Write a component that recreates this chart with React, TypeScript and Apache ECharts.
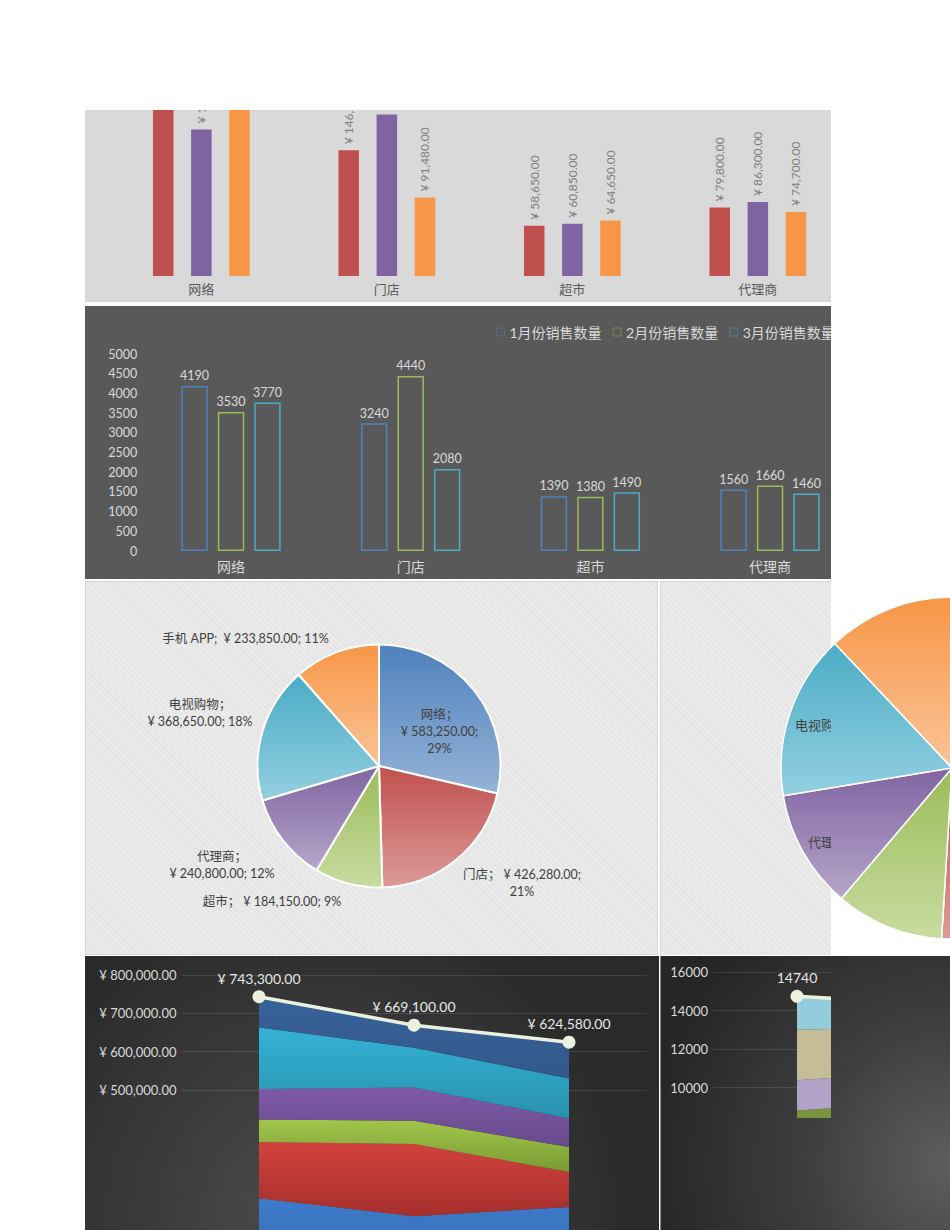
import React, { useEffect, useRef } from 'react';
import * as echarts from 'echarts';

// ---------- data ----------
const channels = ['网络', '门店', '超市', '代理商', '电视购物', '手机 APP'];
const barCategories = ['网络', '门店', '超市', '代理商'];
const months = ['1月', '2月', '3月'];
const amountSeriesNames = ['1月份销售额', '2月份销售额', '3月份销售额'];
const qtySeriesNames = ['1月份销售数量', '2月份销售数量', '3月份销售数量'];

const amountJan = [217650, 146500, 58650, 79800, 160500, 80200];
const amountFeb = [170800, 188300, 60850, 86300, 103800, 59050];
const amountMar = [194800, 91480, 64650, 74700, 104350, 94600];
const amountTotals = [743300, 669100, 624580];
const amountByChannel = [583250, 426280, 184150, 240800, 368650, 233850];

const qtyJan = [4190, 3240, 1390, 1560, 2630, 1730];
const qtyFeb = [3530, 4440, 1380, 1660, 2170, 1070];
const qtyMar = [3770, 2080, 1490, 1460, 1690, 2210];
const qtyTotals = [14740, 14250, 12700];
const qtyByChannel = [11490, 9760, 4260, 4680, 6490, 5010];

const amountLabelledFrom = 500000;

// ---------- styling / layout ----------
const FONT = "Lato, 'Noto Sans CJK SC', sans-serif";
const barColors = ['#c0504d', '#8064a2', '#f79646'];
const qtyBarColors = ['#4f81bd', '#9bbb59', '#4bacc6'];
const legendIconColors = ['rgba(79,129,189,0.45)', 'rgba(155,187,89,0.45)', 'rgba(75,172,198,0.45)'];
const pieGrad = [
  ['#4f81bd', '#95b3d7'],
  ['#c0504d', '#dc9a98'],
  ['#9bbb59', '#c8dca0'],
  ['#8064a2', '#b5a6c9'],
  ['#4bacc6', '#93cfe0'],
  ['#f79646', '#fbc498'],
];
const amountAreaGrad = [
  ['#3d7bcb', '#3569b0'],
  ['#d3423d', '#a52f2c'],
  ['#a1c64a', '#7a9a34'],
  ['#7e59a8', '#684a8c'],
  ['#34b2d6', '#2891ad'],
  ['#37619a', '#33598a'],
];
const qtyAreaColors = ['#95b3d7', '#d99694', '#77933c', '#b3a2c7', '#c4bd97', '#93cddd'];
const pieLabelAnchors = [
  [354.5, 150],
  [437, 302],
  [187, 320],
  [137, 284],
  [115, 132],
  [160.5, 57],
];
const pieLabelBreaks = [
  ['\n', '\n'],
  [' ', '\n'],
  [' ', ' '],
  ['\n', ' '],
  ['\n', ' '],
  [' ', ' '],
];
const rightPieLabelAnchors: Record<number, number[]> = { 3: [148, 261], 4: [135, 144] };

const grad = (a: string, b: string) =>
  new echarts.graphic.LinearGradient(0, 0, 0, 1, [
    { offset: 0, color: a },
    { offset: 1, color: b },
  ]);
const fmtMoney = (v: number) =>
  '¥ ' + v.toLocaleString('en-US', { minimumFractionDigits: 2, maximumFractionDigits: 2 });
const nameSep = (n: string) => (/[A-Za-z]$/.test(n) ? '; ' : '；');

function Chart({ option, style }: { option: any; style: React.CSSProperties }) {
  const ref = useRef<HTMLDivElement>(null);
  useEffect(() => {
    const chart = echarts.init(ref.current!, null, { renderer: 'svg' });
    chart.setOption(option);
    return () => chart.dispose();
  }, []);
  return <div ref={ref} style={style} />;
}

// ---------- options ----------
const amountBarOption = {
  animation: false,
  textStyle: { fontFamily: FONT },
  grid: { left: 23.6, width: 742, top: 61.6, bottom: 27 },
  xAxis: {
    type: 'category',
    data: barCategories,
    axisLine: { show: false },
    axisTick: { show: false },
    axisLabel: { color: '#595959', fontSize: 13, margin: 6 },
  },
  yAxis: { type: 'value', min: 0, max: 250000, show: false },
  series: [amountJan, amountFeb, amountMar].map((arr, i) => ({
    type: 'bar',
    name: amountSeriesNames[i],
    data: arr.slice(0, barCategories.length),
    barWidth: 20.5,
    barGap: '86%',
    itemStyle: { color: barColors[i] },
    label: {
      show: true,
      position: 'top',
      distance: 6,
      rotate: 90,
      align: 'left',
      verticalAlign: 'middle',
      color: '#808080',
      fontSize: 12,
      formatter: (p: any) => fmtMoney(p.value),
    },
  })),
};

const qtyBarOption = {
  animation: false,
  textStyle: { fontFamily: FONT },
  grid: { left: 56.2, width: 718.7, top: 48, bottom: 28 },
  legend: {
    left: 406,
    top: 14,
    itemWidth: 8,
    itemHeight: 8,
    itemGap: 11,
    icon: 'rect',
    textStyle: { color: '#d9d9d9', fontSize: 14 },
    data: qtySeriesNames.map((n, i) => ({
      name: n,
      itemStyle: { color: 'rgba(0,0,0,0)', borderColor: legendIconColors[i], borderWidth: 1 },
    })),
  },
  xAxis: {
    type: 'category',
    data: barCategories,
    axisLine: { show: false },
    axisTick: { show: false },
    axisLabel: { color: '#d9d9d9', fontSize: 14, margin: 8 },
  },
  yAxis: {
    type: 'value',
    min: 0,
    max: 5000,
    interval: 500,
    splitLine: { show: false },
    axisLabel: { color: '#d9d9d9', fontSize: 12.5, margin: 4, formatter: (v: number) => String(v) },
  },
  series: [qtyJan, qtyFeb, qtyMar].map((arr, i) => ({
    type: 'bar',
    name: qtySeriesNames[i],
    data: arr.slice(0, barCategories.length),
    barWidth: 26.4,
    barGap: '38%',
    itemStyle: { color: 'rgba(0,0,0,0)', borderColor: qtyBarColors[i], borderWidth: 1.5 },
    label: { show: true, position: 'top', distance: 4, color: '#d9d9d9', fontSize: 12.5 },
  })),
};

const amountPieOption = {
  animation: false,
  textStyle: { fontFamily: FONT },
  series: [
    {
      type: 'pie',
      center: [294, 185],
      radius: 121.5,
      startAngle: 90,
      clockwise: true,
      avoidLabelOverlap: false,
      itemStyle: { borderColor: '#ffffff', borderWidth: 2 },
      labelLine: { show: false },
      label: {
        show: true,
        position: 'outside',
        color: '#404040',
        fontSize: 12.5,
        lineHeight: 17,
        formatter: (p: any) =>
          p.name +
          nameSep(p.name) +
          pieLabelBreaks[p.dataIndex][0] +
          fmtMoney(p.value) +
          ';' +
          pieLabelBreaks[p.dataIndex][1] +
          Math.round(p.percent) +
          '%',
      },
      labelLayout: (p: any) => ({
        x: pieLabelAnchors[p.dataIndex][0],
        y: pieLabelAnchors[p.dataIndex][1],
        align: 'center',
        verticalAlign: 'middle',
      }),
      emphasis: { disabled: true },
      data: channels.map((n, i) => ({
        name: n,
        value: amountByChannel[i],
        itemStyle: { color: grad(pieGrad[i][0], pieGrad[i][1]) },
      })),
    },
  ],
};

const qtyPieBase = {
  type: 'pie',
  center: [292, 187],
  radius: 171,
  startAngle: 90,
  clockwise: true,
  avoidLabelOverlap: false,
  emphasis: { disabled: true },
  labelLine: { show: false },
};

const qtyPieOption = {
  animation: false,
  textStyle: { fontFamily: FONT },
  series: [
    {
      ...qtyPieBase,
      itemStyle: { borderColor: '#ffffff', borderWidth: 1.5 },
      label: { show: false },
      data: channels.map((n, i) => ({
        name: n,
        value: qtyByChannel[i],
        itemStyle: { color: grad(pieGrad[i][0], pieGrad[i][1]) },
      })),
    },
  ],
};

const qtyPieLabelOption = {
  animation: false,
  textStyle: { fontFamily: FONT },
  series: [
    {
      ...qtyPieBase,
      itemStyle: { color: 'rgba(0,0,0,0)', borderWidth: 0 },
      label: {
        show: true,
        position: 'inside',
        color: '#404040',
        fontSize: 13,
        formatter: (p: any) => p.name + nameSep(p.name) + p.value + '；' + Math.round(p.percent) + '%',
      },
      labelLayout: (p: any) => {
        const a = rightPieLabelAnchors[p.dataIndex];
        return a ? { x: a[0], y: a[1], align: 'left', verticalAlign: 'middle' } : {};
      },
      data: channels.map((n, i) => ({
        name: n,
        value: qtyByChannel[i],
        label: { show: !!rightPieLabelAnchors[i] },
      })),
    },
  ],
};

const amountTickCount = 9;
const amountAreaOption = {
  animation: false,
  textStyle: { fontFamily: FONT },
  grid: { left: 96.5, width: 465, top: 19, bottom: 14.4 },
  xAxis: { type: 'category', data: months, boundaryGap: true, show: false },
  yAxis: {
    type: 'value',
    min: 0,
    max: 800000,
    interval: 100000,
    axisLine: { show: false },
    axisTick: { show: false },
    axisLabel: {
      color: '#d9d9d9',
      fontSize: 13,
      margin: 5,
      formatter: (v: number) => (v >= amountLabelledFrom ? fmtMoney(v) : ''),
    },
    splitLine: {
      show: true,
      lineStyle: {
        width: 1,
        color: Array.from({ length: amountTickCount }, (_, i) =>
          i * 100000 >= amountLabelledFrom ? 'rgba(255,255,255,0.11)' : 'rgba(0,0,0,0)'
        ),
      },
    },
  },
  series: [
    ...channels.map((n, i) => ({
      type: 'line',
      name: n,
      stack: 'amount',
      data: [amountJan[i], amountFeb[i], amountMar[i]],
      symbol: 'none',
      lineStyle: { width: 0 },
      areaStyle: { color: grad(amountAreaGrad[i][0], amountAreaGrad[i][1]), opacity: 1 },
    })),
    {
      type: 'line',
      name: '合计',
      data: amountTotals,
      symbol: 'circle',
      symbolSize: 13,
      z: 5,
      itemStyle: { color: '#ebf1de' },
      lineStyle: { color: '#ebf1de', width: 3.5 },
      label: {
        show: true,
        position: 'top',
        distance: 5,
        color: '#e6e6e6',
        fontSize: 14,
        formatter: (p: any) => fmtMoney(p.value),
      },
    },
  ],
};

const qtyAreaOption = {
  animation: false,
  textStyle: { fontFamily: FONT },
  grid: { left: 53, width: 504, top: 16, bottom: 15.5 },
  xAxis: { type: 'category', data: months, boundaryGap: true, show: false },
  yAxis: {
    type: 'value',
    min: 0,
    max: 16000,
    interval: 2000,
    axisLine: { show: false },
    axisTick: { show: false },
    axisLabel: { color: '#d9d9d9', fontSize: 13, margin: 5, formatter: (v: number) => String(v) },
    splitLine: { show: true, lineStyle: { color: 'rgba(255,255,255,0.11)', width: 1 } },
  },
  series: [
    ...channels.map((n, i) => ({
      type: 'line',
      name: n,
      stack: 'qty',
      data: [qtyJan[i], qtyFeb[i], qtyMar[i]],
      symbol: 'none',
      lineStyle: { width: 0 },
      areaStyle: { color: qtyAreaColors[i], opacity: 1 },
    })),
    {
      type: 'line',
      name: '合计',
      data: qtyTotals,
      symbol: 'circle',
      symbolSize: 13,
      z: 5,
      itemStyle: { color: '#ebf1de' },
      lineStyle: { color: '#ebf1de', width: 3.5 },
      label: { show: true, position: 'top', distance: 5, color: '#e6e6e6', fontSize: 14 },
    },
  ],
};

const stripes =
  'repeating-linear-gradient(45deg, #e5e5e5 0px, #e5e5e5 2px, #ebebeb 2px, #ebebeb 4px)';

export default function App() {
  const abs = (l: number, t: number, w: number, h: number, extra: React.CSSProperties = {}): React.CSSProperties => ({
    position: 'absolute',
    left: l,
    top: t,
    width: w,
    height: h,
    overflow: 'hidden',
    ...extra,
  });
  return (
    <div
      style={{
        position: 'fixed',
        left: 0,
        top: 0,
        width: 950,
        height: 1230,
        overflow: 'hidden',
        background: '#ffffff',
        fontFamily: FONT,
      }}
    >
      {/* panel 1: amount bars */}
      <div style={abs(85, 110, 746, 192, { background: '#d9d9d9' })}>
        <Chart option={amountBarOption} style={{ position: 'absolute', left: 0, top: -110, width: 800, height: 303 }} />
      </div>
      {/* panel 2: quantity bars */}
      <div style={abs(85, 306, 746, 273, { background: '#595959' })}>
        <Chart option={qtyBarOption} style={{ position: 'absolute', left: 0, top: 0, width: 800, height: 273 }} />
      </div>
      {/* panel 3: amount pie */}
      <div style={abs(85, 581, 573, 374, { background: stripes, boxSizing: 'border-box', border: '1px solid #d6d6d6' })}>
        <Chart option={amountPieOption} style={{ position: 'absolute', left: -1, top: -1, width: 573, height: 374 }} />
      </div>
      {/* panel 4: quantity pie */}
      <div style={abs(660, 581, 290, 374, { background: '#ffffff' })}>
        <div style={abs(0, 0, 171, 374, { background: stripes, boxSizing: 'border-box', borderLeft: '1px solid #d6d6d6', borderTop: '1px solid #d6d6d6' })} />
        <Chart option={qtyPieOption} style={{ position: 'absolute', left: 0, top: 0, width: 290, height: 374 }} />
        <div style={abs(0, 0, 171, 374)}>
          <Chart option={qtyPieLabelOption} style={{ position: 'absolute', left: 0, top: 0, width: 290, height: 374 }} />
        </div>
      </div>
      {/* panel 5: amount stacked area */}
      <div
        style={abs(85, 956, 574, 274, {
          background: 'radial-gradient(circle at 40% 95%, #4e4e4e 0%, #3c3c3c 35%, #2a2a2a 75%)',
        })}
      >
        <Chart option={amountAreaOption} style={{ position: 'absolute', left: 0, top: 0, width: 574, height: 340 }} />
      </div>
      {/* panel 6: quantity stacked area */}
      <div
        style={abs(660, 956, 290, 274, {
          background: 'radial-gradient(circle at 100% 76%, #5e5e5e 0%, #3e3e3e 40%, #262626 85%)',
          boxSizing: 'border-box',
          borderLeft: '1px solid #8a8a8a',
        })}
      >
        <div style={abs(-1, 0, 171, 162)}>
          <Chart option={qtyAreaOption} style={{ position: 'absolute', left: 0, top: 0, width: 560, height: 340 }} />
        </div>
      </div>
    </div>
  );
}
